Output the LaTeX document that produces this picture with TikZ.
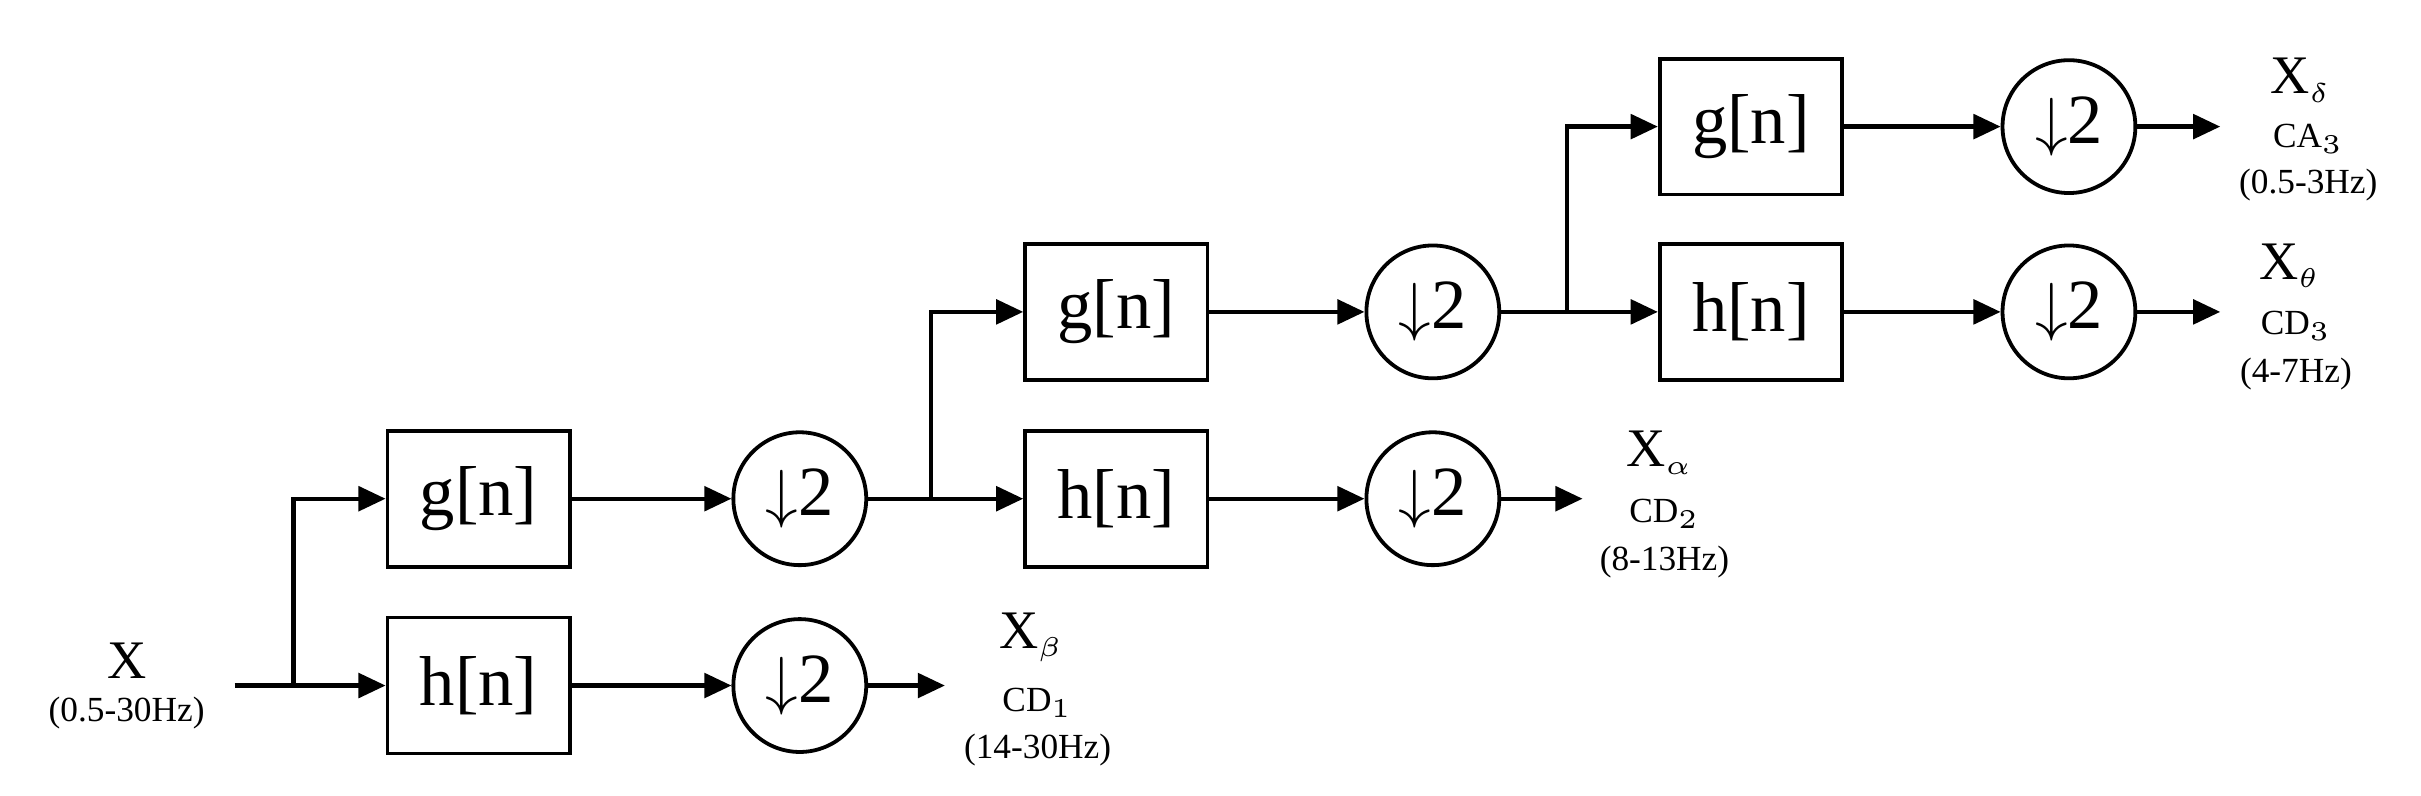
\documentclass[tikz,border=0pt]{standalone}
\usepackage{fontspec}
\setmainfont{Liberation Serif}
\usetikzlibrary{arrows.meta}
\begin{document}
\begin{tikzpicture}[x=0.01cm,y=-0.01cm,
  box/.style={draw,line width=0.7pt,minimum width=118\pgflinewidth,inner sep=0,minimum width=0.118cm*10,minimum height=0.88cm,font=\fontsize{13}{13}\selectfont},
  dn/.style={draw,circle,line width=0.7pt,minimum size=0.86cm,inner sep=0,font=\fontsize{13}{13}\selectfont},
  ar/.style={line width=0.8pt,-{Triangle[length=5pt,width=4.5pt]}},
  ln/.style={line width=0.8pt},
  big/.style={font=\fontsize{10}{10}\selectfont,inner sep=0},
  sm/.style={font=\fontsize{6.5}{7}\selectfont,inner sep=0}]
\useasboundingbox (0,0) rectangle (1568,515);
% level 1
\node[box] (g1) at (310,323) {g[n]};
\node[box] (h1) at (310,444) {h[n]};
\node[dn] (d1) at (518,323) {$\downarrow$2};
\node[dn] (e1) at (518,444) {$\downarrow$2};
\node[big] (x) at (82,428) {X};
\node[sm] (xr) at (82,462) {(0.5-30Hz)};
\coordinate (in) at (152,444);
\coordinate (s1) at (190,444);
\draw[ln] (in) -- (s1);
\draw[ar] (s1) -- (h1);
\draw[ar] (s1) |- (g1);
\draw[ar] (g1) -- (d1);
\draw[ar] (h1) -- (e1);
\coordinate (o1) at (612,444);
\draw[ar] (e1) -- (o1);
\node[big] (xb) at (668,413) {X$_{\scriptscriptstyle\beta}$};
\node[sm] (cd1) at (672,455) {CD$_1$};
\node[sm] (r1) at (672,486) {(14-30Hz)};
% level 2
\node[box] (g2) at (723,202) {g[n]};
\node[box] (h2) at (723,323) {h[n]};
\node[dn] (d2) at (928,202) {$\downarrow$2};
\node[dn] (e2) at (928,323) {$\downarrow$2};
\coordinate (s2) at (603,323);
\draw[ln] (d1) -- (s2);
\draw[ar] (s2) -- (h2);
\draw[ar] (s2) |- (g2);
\draw[ar] (g2) -- (d2);
\draw[ar] (h2) -- (e2);
\coordinate (o2) at (1025,323);
\draw[ar] (e2) -- (o2);
\node[big] (xa) at (1075,293) {X$_{\scriptscriptstyle\alpha}$};
\node[sm] (cd2) at (1078,333) {CD$_2$};
\node[sm] (r2) at (1078,364) {(8-13Hz)};
% level 3
\node[box] (g3) at (1134,82) {g[n]};
\node[box] (h3) at (1134,202) {h[n]};
\node[dn] (d3) at (1340,82) {$\downarrow$2};
\node[dn] (e3) at (1340,202) {$\downarrow$2};
\coordinate (s3) at (1015,202);
\draw[ln] (d2) -- (s3);
\draw[ar] (s3) -- (h3);
\draw[ar] (s3) |- (g3);
\draw[ar] (g3) -- (d3);
\draw[ar] (h3) -- (e3);
\coordinate (o3) at (1438,82);
\coordinate (o4) at (1438,202);
\draw[ar] (d3) -- (o3);
\draw[ar] (e3) -- (o4);
\node[big] (xd) at (1490,52) {X$_{\scriptscriptstyle\delta}$};
\node[sm] (ca3) at (1495,90) {CA$_3$};
\node[sm] (r3) at (1495,120) {(0.5-3Hz)};
\node[big] (xt) at (1483,172) {X$_{\scriptscriptstyle\theta}$};
\node[sm] (cd3) at (1487,211) {CD$_3$};
\node[sm] (r4) at (1487,242) {(4-7Hz)};
\end{tikzpicture}
\end{document}
